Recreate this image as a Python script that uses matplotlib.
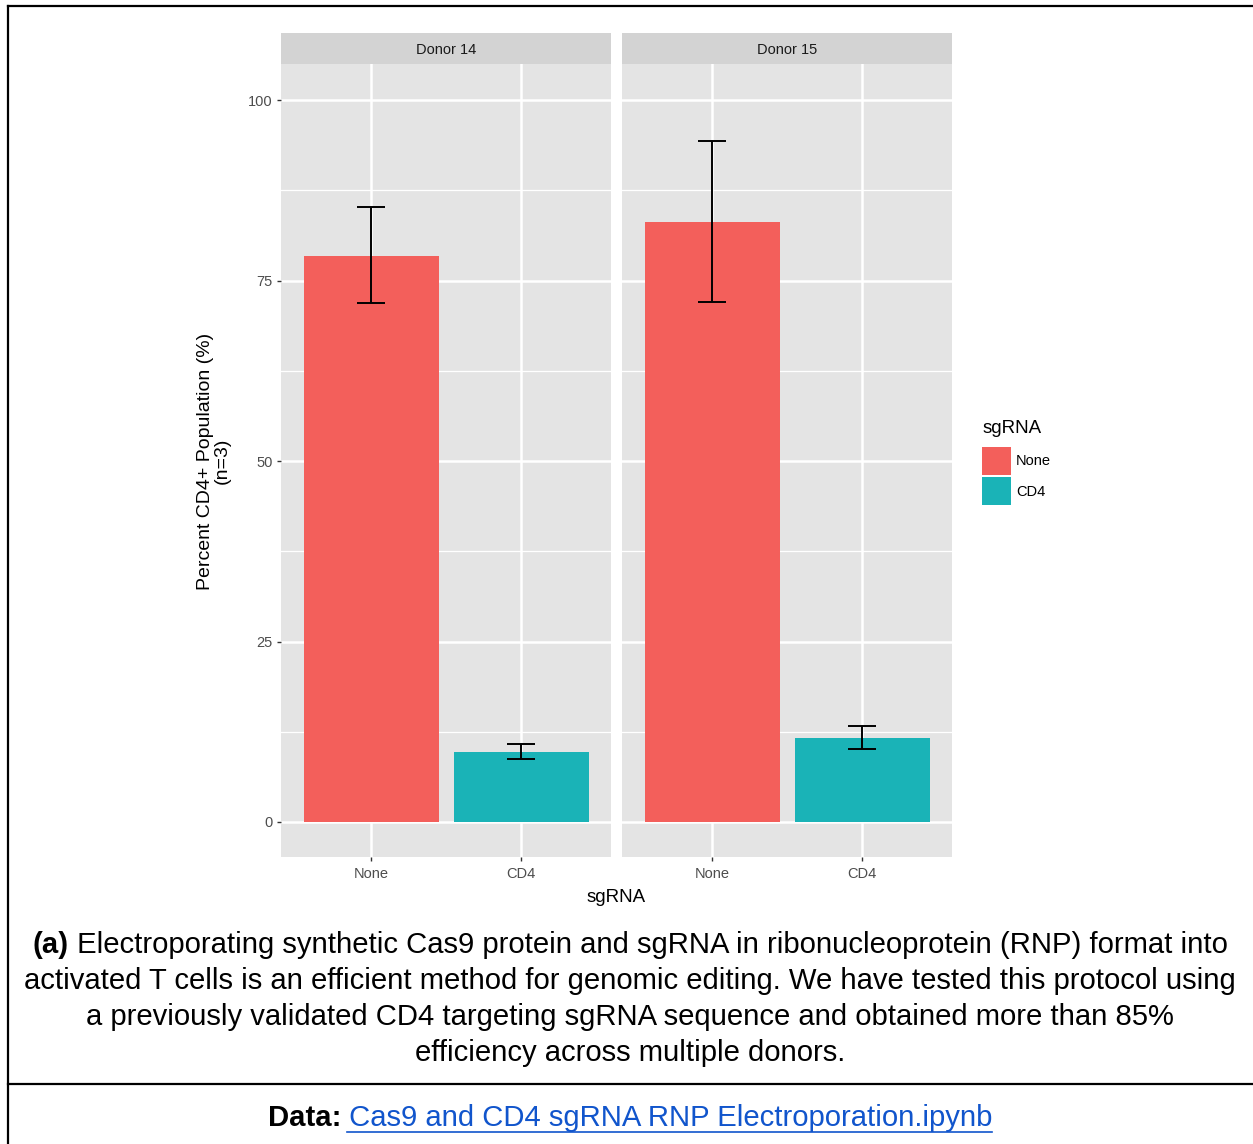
import numpy as np
import matplotlib
matplotlib.use('Agg')
import matplotlib.pyplot as plt
from matplotlib.lines import Line2D

plt.rcParams['font.family'] = ['Liberation Sans', 'DejaVu Sans']

# dados
donors = ['Donor 14', 'Donor 15']
categories = ['None', 'CD4']
means = {'Donor 14': [78.4, 9.7], 'Donor 15': [83.1, 11.6]}
err_low = {'Donor 14': [71.9, 8.7], 'Donor 15': [72.0, 10.1]}
err_high = {'Donor 14': [85.2, 10.8], 'Donor 15': [94.3, 13.3]}
yticks = [0, 25, 50, 75, 100]
bar_colors = ['#F35F5B', '#1AB3B7']

W, H = 1253, 1144
fig = plt.figure(figsize=(W / 100, H / 100), dpi=100)

def px_axes(x0, y0, x1, y1):  # coordenadas em pixels (topo = 0)
    return fig.add_axes([x0 / W, 1 - y1 / H, (x1 - x0) / W, (y1 - y0) / H])

panels = [(281, 611), (622, 952)]
tick_col = '#4D4D4D'
handles = None
for i, donor in enumerate(donors):
    x0, x1 = panels[i]
    ax = px_axes(x0, 64, x1, 857)
    ax.set_facecolor('#E4E4E4')
    xs = np.arange(1, len(categories) + 1)
    ax.set_xlim(0.4, 2.6)
    ax.set_ylim(-4.85, 105.0)
    for y in [12.5, 37.5, 62.5, 87.5]:
        ax.axhline(y, color='white', lw=0.9, zorder=0)
    for y in yticks:
        ax.axhline(y, color='white', lw=1.8, zorder=0)
    for x in xs:
        ax.axvline(x, color='white', lw=1.8, zorder=0)
    bars = ax.bar(xs, means[donor], width=0.9, color=bar_colors, zorder=2)
    lo = np.array(means[donor]) - np.array(err_low[donor])
    hi = np.array(err_high[donor]) - np.array(means[donor])
    ax.errorbar(xs, means[donor], yerr=[lo, hi], fmt='none', ecolor='black',
                elinewidth=1.4, capsize=10, capthick=1.4, zorder=3)
    if handles is None:
        handles = list(bars)
    for s in ax.spines.values():
        s.set_visible(False)
    ax.set_xticks(xs)
    ax.set_xticklabels(categories, fontsize=10.5, color=tick_col)
    ax.tick_params(axis='x', length=3, width=1, color='#333333', pad=4.5)
    if i == 0:
        ax.set_yticks(yticks)
        ax.set_yticklabels([str(t) for t in yticks], fontsize=10.5, color=tick_col)
        ax.tick_params(axis='y', length=3, width=1, color='#333333', pad=3)
    else:
        ax.set_yticks([])
    # faixa do titulo do painel
    st = px_axes(x0, 33, x1, 64)
    st.set_facecolor('#D3D3D3')
    st.set_xticks([])
    st.set_yticks([])
    for s in st.spines.values():
        s.set_visible(False)
    st.text(0.5, 0.44, donor, ha='center', va='center', fontsize=10.5, color='#1A1A1A')

# titulos dos eixos
fig.text(616 / W, 1 - 898 / H, 'sgRNA', ha='center', va='center', fontsize=13.5)
fig.text(214 / W, 1 - 461 / H, 'Percent CD4+ Population (%)\n(n=3)', ha='center', va='center',
         rotation=90, fontsize=14, linespacing=0.95)

# legenda
leg = fig.legend(handles, categories, loc='upper left', bbox_to_anchor=(978 / W, 1 - 416 / H),
                 frameon=False, title='sgRNA', fontsize=10.5, title_fontsize=13.5,
                 handlelength=1.95, handleheight=2.57, handletextpad=0.35, labelspacing=0.15,
                 borderaxespad=0, borderpad=0.3)
leg._legend_box.align = 'left'
leg._legend_box.sep = 7

# legenda da figura (texto)
cap_fs = 21.1
lines = ['activated T cells is an efficient method for genomic editing. We have tested this protocol using',
         'a previously validated CD4 targeting sgRNA sequence and obtained more than 85%',
         'efficiency across multiple donors.']
fig.canvas.draw()
r = fig.canvas.get_renderer()
ta = fig.text(0, 1 - 945 / H, '(a)', fontsize=cap_fs, fontweight='bold', va='center')
tb = fig.text(0, 1 - 945 / H, ' Electroporating synthetic Cas9 protein and sgRNA in ribonucleoprotein (RNP) format into',
              fontsize=cap_fs, va='center')
wa = ta.get_window_extent(r).width
wb = tb.get_window_extent(r).width
start = 630 - (wa + wb) / 2
ta.set_x(start / W)
tb.set_x((start + wa) / W)
for k, ln in enumerate(lines):
    fig.text(630 / W, 1 - (981 + 36 * k) / H, ln, ha='center', va='center', fontsize=cap_fs)

td = fig.text(0, 1 - 1118 / H, 'Data:', fontsize=cap_fs, fontweight='bold', va='center')
tl = fig.text(0, 1 - 1118 / H, ' Cas9 and CD4 sgRNA RNP Electroporation.ipynb', fontsize=cap_fs,
              va='center', color='#1155CC')
wd = td.get_window_extent(r).width
wl = tl.get_window_extent(r).width
start = 630 - (wd + wl) / 2
td.set_x(start / W)
tl.set_x((start + wd) / W)
fig.add_artist(Line2D([(start + wd + 6) / W, (start + wd + wl) / W], [1 - 1132 / H, 1 - 1132 / H],
                      color='#1155CC', lw=1.2))

# moldura
fig.add_artist(Line2D([8 / W, 8 / W], [0, 1 - 6 / H], color='black', lw=1.6))
fig.add_artist(Line2D([8 / W, 1], [1 - 6 / H, 1 - 6 / H], color='black', lw=1.6))
fig.add_artist(Line2D([8 / W, 1], [1 - 1084 / H, 1 - 1084 / H], color='black', lw=1.6))

fig.savefig('out.png', dpi=100)
